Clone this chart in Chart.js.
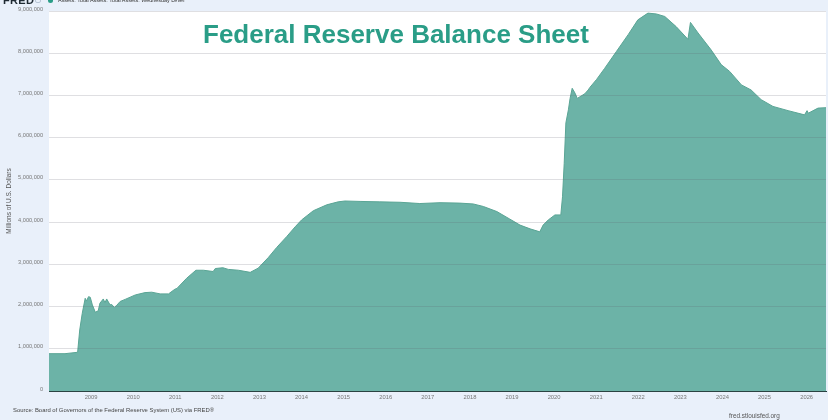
<!DOCTYPE html>
<html><head><meta charset="utf-8">
<script src="https://cdn.jsdelivr.net/npm/chart.js@4"></script>
<style>
html,body{margin:0;padding:0;width:828px;height:420px;overflow:hidden;background:#e9f0fa}
#wrap{position:relative;width:828px;height:420px;overflow:hidden;font-family:"Liberation Sans",Arial,sans-serif}
canvas{position:absolute;left:0;top:0}
.t{position:absolute;white-space:nowrap;line-height:1}
#title{left:203px;top:21px;font-size:26px;font-weight:700;color:#2a9d87}
#logo{left:3px;top:-5px;font-size:11px;font-weight:700;color:#1f2a33;letter-spacing:.3px}
#icon{position:absolute;left:35px;top:-3px;width:6px;height:6px;border:1px solid #b9c6d6;border-radius:2px;box-sizing:border-box}
#dot{position:absolute;left:48px;top:-2px;width:5px;height:5px;border-radius:50%;background:#2a9d87}
#legend{left:58px;top:-2px;font-size:5.45px;color:#333}
#source{left:13px;top:408px;font-size:5.9px;color:#444}
#site{left:729px;top:413px;font-size:6.4px;color:#555}
</style></head>
<body><div id="wrap">
<canvas id="c" width="828" height="420"></canvas>
<div class="t" id="logo">FRED</div><div id="icon"></div><div id="dot"></div>
<div class="t" id="legend">Assets: Total Assets: Total Assets: Wednesday Level</div>
<div class="t" id="title">Federal Reserve Balance Sheet</div>
<div class="t" id="source">Source: Board of Governors of the Federal Reserve System (US) via FRED®</div>
<div class="t" id="site">fred.stlouisfed.org</div>
</div>
<script>
const years=[2008.00,2008.38,2008.68,2008.73,2008.79,2008.86,2008.89,2008.94,2008.98,2009.03,2009.10,2009.17,2009.21,2009.29,2009.33,2009.37,2009.45,2009.49,2009.55,2009.61,2009.69,2009.81,2010.05,2010.28,2010.44,2010.64,2010.84,2010.99,
2011.04,2011.27,2011.49,2011.67,2011.90,2011.95,2012.13,2012.26,2012.50,2012.78,2012.97,2013.21,2013.41,2013.65,2013.85,2014.00,2014.28,2014.60,2014.87,2015.03,
2015.39,2015.86,2016.34,2016.81,2017.29,2017.76,2018.08,2018.32,2018.64,2018.95,2019.19,2019.43,2019.66,2019.74,2019.86,2020.02,2020.16,2020.20,2020.24,2020.28,2020.34,2020.38,2020.43,2020.50,2020.55,2020.73,2020.81,2020.85,
2021.01,2021.20,2021.48,2021.76,2021.99,2022.23,2022.43,2022.63,2022.90,2023.18,2023.24,2023.42,2023.73,2023.97,2024.17,2024.45,2024.68,2024.92,2025.20,2025.56,2025.95,2026.01,2026.04,2026.27,2026.46];
const assets=[884000,884000,917000,1445000,1840000,2196000,2130000,2235000,2220000,2040000,1865000,1900000,2080000,2180000,2090000,2180000,2040000,2050000,1980000,2030000,2120000,2170000,2275000,2330000,2340000,2300000,2300000,2410000,
2430000,2670000,2860000,2860000,2830000,2900000,2920000,2880000,2860000,2810000,2910000,3160000,3400000,3660000,3890000,4050000,4270000,4410000,4480000,4500000,
4490000,4480000,4470000,4440000,4460000,4450000,4430000,4370000,4250000,4070000,3930000,3840000,3770000,3930000,4050000,4170000,4170000,4600000,5390000,6350000,6660000,6930000,7170000,7050000,6930000,7040000,7130000,7190000,
7380000,7640000,8040000,8440000,8790000,8950000,8930000,8870000,8630000,8330000,8730000,8480000,8080000,7730000,7570000,7250000,7130000,6900000,6740000,6640000,6540000,6640000,6580000,6700000,6710000];
const yTicks=[0,1000000,2000000,3000000,4000000,5000000,6000000,7000000,8000000,9000000];
const xTicks=[2009,2010,2011,2012,2013,2014,2015,2016,2017,2018,2019,2020,2021,2022,2023,2024,2025,2026];
const plotBg={id:'plotBg',beforeDraw(ch){const a=ch.chartArea,x=ch.ctx;x.save();x.fillStyle='#fff';x.fillRect(a.left,a.top,a.right-a.left,a.bottom-a.top);x.restore();}};
new Chart(document.getElementById('c'),{
 type:'line',
 plugins:[plotBg],
 data:{datasets:[{data:years.map((v,i)=>({x:v,y:assets[i]})),borderColor:'#5aa595',borderWidth:1,backgroundColor:'#6cb3a7',fill:'origin',pointRadius:0,tension:0}]},
 options:{
  responsive:false,animation:false,
  layout:{padding:{top:11,right:2,bottom:0,left:0}},
  plugins:{legend:{display:false},title:{display:false},tooltip:{enabled:false}},
  scales:{
   x:{type:'linear',min:2008,max:2026.46,
    afterBuildTicks(s){s.ticks=xTicks.map(v=>({value:v}));},
    afterFit(s){s.height=29;},
    grid:{display:false,drawTicks:false,tickLength:0},
    border:{display:true,color:'#1f3d38',width:1,z:1},
    ticks:{autoSkip:false,maxRotation:0,color:'#777',padding:3,font:{family:'"Liberation Sans"',size:5.8},callback:v=>String(v)}},
   y:{min:0,max:9000000,
    afterBuildTicks(s){s.ticks=yTicks.map(v=>({value:v}));},
    afterFit(s){s.width=49;},
    grid:{color:'rgba(95,95,110,0.2)',lineWidth:1,z:1,drawTicks:false,tickLength:0},
    border:{display:false},
    title:{display:true,text:'Millions of U.S. Dollars',color:'#555',font:{family:'"Liberation Sans"',size:6.5},padding:{top:5,bottom:0}},
    ticks:{color:'#777',padding:6,font:{family:'"Liberation Sans"',size:5.6,lineHeight:'4px'},callback:v=>[v.toLocaleString('en-US'),'']}}
  }
 }
});
</script>
</body></html>
